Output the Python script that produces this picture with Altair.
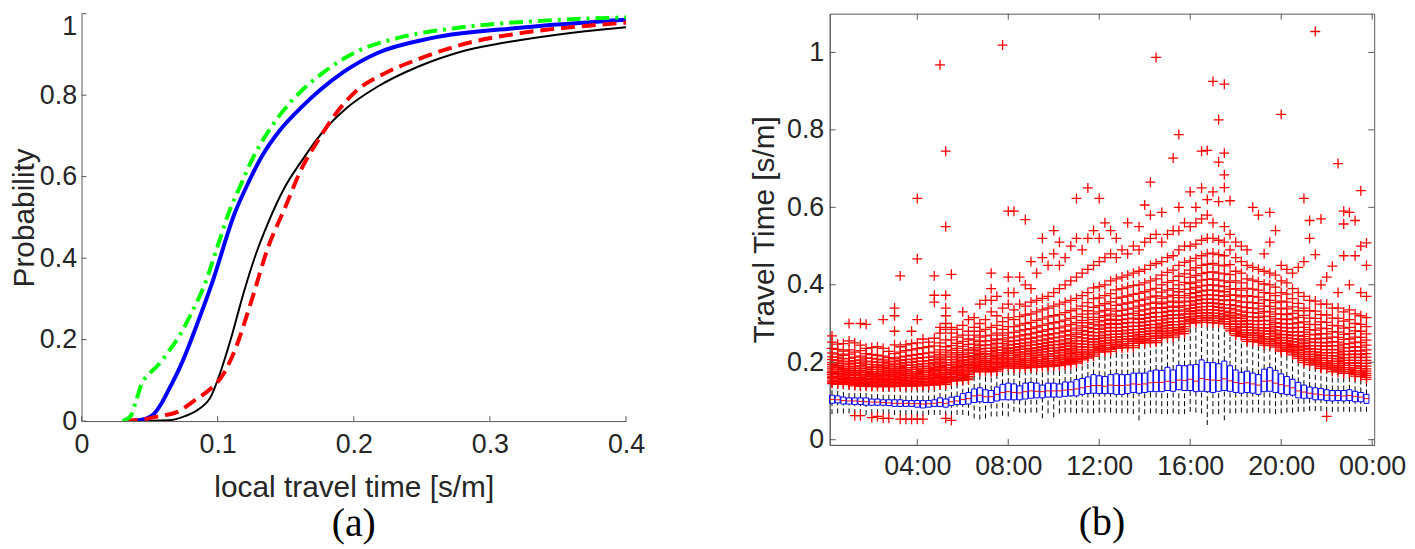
import altair as alt
import pandas as pd

# ---------------- panel (a): CDF curves ----------------
GREEN_X = [0.030, 0.036, 0.040, 0.044, 0.050, 0.057, 0.0635, 0.072, 0.080, 0.091, 0.100, 0.108, 0.117, 0.125, 0.137, 0.150, 0.163, 0.177, 0.2015, 0.232, 0.278, 0.340, 0.400]
GREEN_P = [0.000, 0.012, 0.049, 0.090, 0.117, 0.140, 0.169, 0.210, 0.260, 0.340, 0.430, 0.510, 0.580, 0.640, 0.710, 0.769, 0.815, 0.854, 0.906, 0.940, 0.966, 0.983, 0.991]
BLUE_X = [0.035, 0.045, 0.053, 0.059, 0.065, 0.072, 0.077, 0.084, 0.096, 0.1125, 0.1225, 0.1325, 0.146, 0.162, 0.175, 0.192, 0.217, 0.257, 0.324, 0.400]
BLUE_P = [0.000, 0.004, 0.017, 0.045, 0.083, 0.130, 0.169, 0.230, 0.340, 0.510, 0.585, 0.650, 0.715, 0.772, 0.812, 0.856, 0.903, 0.940, 0.966, 0.985]
BLACK_X = [0.033, 0.064, 0.076, 0.086, 0.095, 0.101, 0.110, 0.119, 0.128, 0.137, 0.149, 0.162, 0.177, 0.195, 0.217, 0.248, 0.278, 0.324, 0.370, 0.400]
BLACK_P = [0.000, 0.002, 0.012, 0.029, 0.060, 0.110, 0.205, 0.314, 0.409, 0.486, 0.572, 0.640, 0.709, 0.769, 0.820, 0.871, 0.906, 0.936, 0.957, 0.967]
RED_X = [0.031, 0.045, 0.057, 0.070, 0.084, 0.095, 0.103, 0.113, 0.125, 0.137, 0.149, 0.162, 0.174, 0.186, 0.202, 0.223, 0.248, 0.278, 0.324, 0.370, 0.400]
RED_P = [0.000, 0.004, 0.012, 0.022, 0.053, 0.080, 0.109, 0.177, 0.297, 0.426, 0.520, 0.622, 0.690, 0.751, 0.811, 0.854, 0.889, 0.923, 0.953, 0.970, 0.978]

A_XTICKS = [0, 0.1, 0.2, 0.3, 0.4]
A_YTICKS = [0, 0.2, 0.4, 0.6, 0.8, 1.0]

# ---------------- panel (b): box plot per 15-minute bin ----------------
BIN_MINUTES = 15
Q3 = [.115,.113,.110,.108,.108,.108,.108,.105,.105,.103,
      .103,.103,.103,.101,.101,.101,.101,.101,.103,.108,
      .105,.110,.112,.119,.122,.131,.134,.129,.127,.136,
      .143,.146,.144,.139,.146,.148,.146,.141,.146,.146,
      .144,.149,.149,.155,.158,.162,.168,.165,.163,.168,
      .170,.168,.168,.172,.172,.172,.177,.180,.179,.187,
      .180,.192,.191,.193,.194,.206,.199,.199,.196,.203,
      .191,.180,.174,.177,.172,.168,.182,.186,.179,.170,
      .163,.156,.148,.141,.136,.134,.132,.129,.127,.127,
      .127,.129,.125,.122,.117]
Q1 = [.094,.095,.092,.092,.091,.091,.089,.089,.089,.089,
      .088,.086,.086,.086,.086,.084,.082,.084,.086,.086,
      .084,.088,.091,.091,.092,.096,.098,.096,.096,.100,
      .103,.103,.103,.103,.105,.107,.108,.108,.110,.110,
      .110,.112,.113,.113,.117,.119,.120,.119,.119,.119,
      .117,.117,.119,.122,.120,.122,.124,.124,.124,.127,
      .125,.129,.127,.127,.124,.125,.124,.122,.125,.127,
      .125,.122,.120,.122,.120,.117,.124,.125,.122,.119,
      .117,.115,.108,.107,.107,.103,.103,.101,.100,.101,
      .100,.101,.098,.098,.094]
MED = [.104,.103,.101,.100,.100,.099,.098,.097,.097,.096,
       .095,.094,.094,.094,.093,.093,.092,.093,.094,.096,
       .094,.098,.100,.104,.106,.113,.115,.111,.111,.117,
       .122,.124,.122,.121,.124,.126,.125,.124,.126,.126,
       .126,.128,.129,.131,.134,.137,.140,.140,.138,.141,
       .140,.140,.141,.144,.143,.144,.147,.148,.148,.151,
       .148,.154,.153,.156,.151,.158,.155,.154,.153,.157,
       .152,.148,.145,.147,.144,.141,.151,.152,.146,.142,
       .139,.134,.126,.123,.120,.118,.116,.115,.114,.114,
       .113,.114,.112,.110,.106]
LO = [.066,.068,.068,.068,.066,.066,.064,.066,.066,.066,
      .066,.064,.064,.064,.064,.062,.062,.064,.064,.064,
      .062,.062,.064,.064,.062,.055,.052,.055,.060,.060,
      .062,.060,.072,.070,.068,.070,.070,.055,.068,.058,
      .068,.070,.070,.068,.070,.068,.068,.070,.070,.070,
      .068,.068,.068,.066,.050,.066,.068,.068,.066,.066,
      .068,.066,.066,.072,.070,.068,.038,.066,.066,.050,
      .068,.068,.070,.068,.070,.070,.068,.068,.066,.068,
      .070,.070,.072,.072,.074,.074,.074,.072,.072,.072,
      .072,.072,.072,.072,.072]
HI = [.140,.140,.139,.138,.135,.134,.134,.133,.133,.133,
      .133,.133,.134,.134,.134,.135,.135,.136,.137,.138,
      .139,.147,.148,.149,.151,.171,.172,.172,.171,.173,
      .181,.184,.180,.180,.181,.181,.182,.183,.184,.185,
      .186,.188,.190,.193,.202,.207,.212,.222,.222,.223,
      .232,.232,.233,.233,.245,.245,.246,.246,.259,.259,
      .260,.269,.270,.297,.298,.299,.299,.298,.297,.295,
      .277,.265,.263,.250,.249,.248,.240,.239,.235,.225,
      .224,.215,.206,.195,.190,.189,.180,.179,.172,.171,
      .167,.167,.160,.159,.152]

# outliers per bin, in thousandths of s/m
OUTLIERS = [
    "145 149 152 157 161 164 169 174 177 183 188 194 199 207 214 224 236 252 268",
    "143 146 151 154 159 163 168 171 176 181 187 191 198 204 213 221 233 247",
    "144 147 150 155 158 162 167 170 175 180 184 190 196 203 209 218 229 248",
    "142 146 149 153 157 160 165 169 173 178 183 188 195 201 210 221 232 255 300",
    "062 139 142 146 149 154 157 161 166 170 175 179 185 190 197 204 213 226 250",
    "062 138 141 145 149 152 156 160 165 169 174 179 184 191 198 206 216 230 244 300",
    "138 142 145 148 152 156 159 164 168 173 177 183 188 195 203 211 222 236 298",
    "057 137 140 144 147 151 155 158 163 167 171 176 181 187 194 201 210 220 238",
    "060 137 141 144 148 151 155 159 162 167 172 176 182 188 193 200 208 218 240",
    "055 137 140 143 147 150 154 158 162 166 170 175 180 186 192 199 206 216 236 310",
    "055 137 141 144 148 152 155 159 164 168 173 178 184 190 196 203 212 228",
    "137 140 144 147 151 155 159 163 167 172 177 182 188 194 201 209 222 245 280 320 340",
    "053 138 141 145 148 152 156 160 164 169 173 178 184 189 196 204 213 226 240 423",
    "053 138 142 145 149 153 157 161 166 170 175 180 186 192 199 207 216 230 245",
    "053 138 141 145 149 152 157 161 165 170 175 181 186 193 200 208 218 232 248 280",
    "053 139 142 146 150 154 158 162 167 171 176 182 188 194 202 210 220 235 250 310 467 623",
    "053 139 143 147 150 155 159 163 168 173 178 183 189 196 203 212 222 238 260",
    "140 143 147 151 155 159 164 168 173 178 184 190 197 204 213 224 240 252",
    "141 145 149 152 157 161 166 170 175 181 186 193 199 207 216 226 242 262 355 373 423",
    "142 146 150 154 158 163 167 172 178 183 189 196 203 211 220 232 250 275 290 968",
    "055 143 147 151 155 160 164 169 174 180 186 192 199 207 216 226 240 258 285 300 320 340 373 550 745",
    "050 151 155 159 163 168 172 177 182 187 193 199 206 213 221 231 243 258 275 290 427",
    "152 156 160 164 169 173 178 183 189 195 201 208 216 225 236 249 265 285",
    "153 157 161 166 170 175 180 186 191 198 204 212 220 230 241 254 270 295 330",
    "155 159 163 168 172 177 183 188 194 200 207 215 224 234 246 260 280 310",
    "175 179 183 187 192 196 201 206 211 217 223 230 238 247 257 270 290 315",
    "176 180 184 189 193 198 203 208 214 220 227 234 243 253 265 280 300 350",
    "176 181 185 189 194 199 204 210 215 222 228 236 245 255 268 285 310 360",
    "175 179 184 188 193 198 203 209 215 221 228 236 245 256 270 290 330 360 390 430",
    "177 181 186 190 195 200 206 211 217 224 231 239 249 260 275 295 320 370",
    "185 189 193 198 203 208 213 219 225 232 239 248 258 270 285 305 340 1019",
    "188 192 197 201 206 211 217 223 229 236 244 253 263 276 292 315 350 380 420 590",
    "184 188 193 197 202 207 212 218 224 231 238 246 255 265 277 292 310 335 380 590",
    "185 189 193 198 203 208 214 220 226 233 240 248 257 268 281 296 318 350 420",
    "185 190 194 199 204 209 215 221 227 234 242 250 260 271 284 300 322 345 400 568",
    "186 190 195 200 205 210 216 222 229 236 244 252 262 273 287 303 325 355 390 460",
    "187 191 196 201 206 212 218 224 231 238 246 255 265 277 291 308 330 360 430",
    "188 192 197 202 207 213 219 226 233 240 248 257 268 280 295 312 335 365 470 520",
    "189 193 198 203 209 215 221 228 235 243 251 260 271 284 299 317 340 370 450",
    "190 194 199 204 210 216 222 229 237 245 253 263 274 287 302 320 345 380 480 540",
    "191 195 200 206 211 217 224 231 238 246 255 265 276 289 305 323 350 390 450 510",
    "193 197 202 207 213 219 226 233 241 249 258 268 280 293 309 328 355 400 470",
    "195 199 204 210 216 222 229 236 244 252 261 271 283 297 313 333 360 410 500",
    "198 202 207 213 219 225 232 240 248 256 266 276 288 302 318 338 365 420 520 623",
    "206 210 215 221 227 233 240 247 255 263 272 282 294 308 324 345 372 430 490",
    "211 216 221 226 232 239 246 253 261 270 279 290 302 316 333 354 380 440 520 650",
    "216 221 226 232 238 245 252 259 268 277 287 298 310 325 342 364 392 450 540",
    "226 231 236 241 247 254 261 268 276 285 294 304 316 330 346 366 395 460 520 623",
    "227 232 237 243 249 256 263 270 279 288 297 308 320 334 351 372 400 470 560",
    "228 233 238 244 250 257 264 272 281 290 300 311 324 338 356 377 410 480 540",
    "236 241 246 252 258 265 272 280 289 298 308 319 332 347 365 387 415 470 520",
    "237 242 247 253 259 266 273 281 290 300 310 321 334 350 368 390 420 490",
    "238 243 248 254 260 267 275 283 292 302 312 324 337 353 371 394 425 480 560",
    "238 243 249 255 261 268 276 284 293 303 314 326 340 356 375 398 430 500",
    "249 254 259 265 271 278 285 293 302 311 321 332 345 360 378 400 435 490 550",
    "250 255 260 266 272 279 287 295 304 313 323 335 348 363 382 405 440 510 606",
    "251 256 261 267 274 281 289 297 306 316 326 338 352 368 387 410 450 520 580 665",
    "251 256 262 268 275 282 290 298 308 318 329 341 355 371 391 415 455 530 987",
    "263 268 273 279 286 293 301 309 318 328 339 351 365 381 400 425 460 510 587",
    "264 269 275 281 288 295 303 312 321 331 342 355 369 386 406 432 470 530",
    "265 270 276 282 289 297 305 314 323 334 345 358 373 390 411 438 475 540 727",
    "273 278 284 290 297 305 313 322 332 342 354 367 382 400 422 450 490 540 600 788",
    "274 280 286 292 299 307 316 325 335 346 358 372 388 406 428 458 500 560",
    "301 306 311 317 324 331 339 347 356 366 377 389 403 419 438 462 500 550 640",
    "302 307 313 319 326 333 341 350 359 369 380 393 407 424 444 468 505 560 600",
    "303 308 314 320 327 335 343 352 362 372 384 397 412 429 450 475 515 570 650 745",
    "303 309 315 321 328 336 344 353 363 374 386 399 414 432 453 480 520 580 620 747",
    "302 308 314 320 327 335 344 353 363 374 386 400 415 433 455 482 520 560 640 925",
    "301 307 313 319 326 334 342 351 361 372 384 397 412 430 451 478 515 615 717 826",
    "299 305 311 317 324 332 340 349 359 370 382 395 410 428 449 475 510 550 651 684 740 918",
    "281 286 292 298 305 312 320 329 339 349 361 374 389 406 426 452 490 530 617",
    "269 274 280 286 292 299 307 316 325 335 346 359 373 390 410 435 470 510",
    "267 272 277 283 290 297 305 313 322 332 343 355 369 386 405 430 460 500",
    "254 259 264 270 276 283 291 299 308 318 329 341 355 372 391 415 450 490",
    "253 258 264 270 276 283 290 298 307 317 328 340 354 370 389 412 445 600",
    "252 257 263 269 275 282 289 297 306 315 326 338 352 368 386 408 440 580",
    "244 249 254 260 266 273 281 289 298 308 319 331 345 361 380 402 435 480",
    "243 248 254 259 266 273 280 288 297 307 318 330 344 360 378 400 430 510 587",
    "239 244 249 255 261 268 275 283 292 302 312 324 338 354 372 394 425 540",
    "229 234 239 244 250 257 264 272 281 290 300 312 325 340 358 380 410 450 840",
    "228 233 238 243 249 256 263 271 279 289 299 310 323 338 355 376 405 440",
    "219 224 229 234 240 246 253 261 269 278 288 299 312 326 343 364 390 430",
    "210 215 220 225 231 237 244 252 260 269 279 290 302 316 333 352 380 445",
    "199 204 209 214 220 226 233 240 248 257 267 278 290 304 321 340 370 460 623",
    "194 199 204 209 215 221 228 235 243 252 261 272 284 298 314 333 360 520 566",
    "193 198 203 208 214 220 227 234 242 251 260 271 283 297 313 332 358 478 1054",
    "184 189 194 199 205 211 218 225 233 242 251 262 274 288 304 323 350 400 570",
    "060 183 188 193 198 204 210 217 224 232 241 250 261 273 287 303 322 350 420",
    "176 181 186 191 197 203 210 217 225 233 243 253 265 279 295 314 340 448",
    "175 180 185 190 196 202 209 216 224 232 242 252 264 278 294 313 340 380 713",
    "171 176 181 186 192 198 205 212 220 228 237 247 259 272 288 306 330 475 557 590",
    "171 176 181 186 192 198 205 212 220 228 238 248 260 274 290 310 335 400 587",
    "164 169 174 179 185 191 198 205 213 221 230 240 252 265 281 300 325 475 566",
    "163 168 173 178 184 190 197 204 212 220 229 239 251 264 280 298 320 380 500 643",
    "156 161 166 171 177 183 190 197 205 213 222 232 244 257 273 292 315 370 450 508",
]
B_YTICKS = [0, 0.2, 0.4, 0.6, 0.8, 1.0]
B_XTICKS = [4, 8, 12, 16, 20, 24]

# ---------------- styling ----------------
AX = "#595959"
TXT = "#262626"
FONT = "Liberation Sans"
W_A, H_A = 548, 410
W_B, H_B = 548, 434

# ---------------- panel (a) ----------------
rows = []
for name, xs, ps in [("green", GREEN_X, GREEN_P), ("blue", BLUE_X, BLUE_P),
                     ("black", BLACK_X, BLACK_P), ("red", RED_X, RED_P)]:
    for x, p in zip(xs, ps):
        rows.append({"curve": name, "x": x, "p": p})
df_a = pd.DataFrame(rows)

xs_a = alt.Scale(domain=[0, 0.4], nice=False, zero=False)
ys_a = alt.Scale(domain=[0, 1], nice=False)

ax_x_a = alt.Axis(values=A_XTICKS, format="~g", labelPadding=11, title="local travel time [s/m]",
                  titlePadding=15, labelFlush=False)
ax_y_a = alt.Axis(values=A_YTICKS, format="~g", labelPadding=5, title="Probability", titlePadding=0,
                  labelBaseline=alt.condition("datum.value == 1", alt.value("top"), alt.value("middle")),
                  labelFlush=False)

styles = [("black", "#000000", None, 2.0),
          ("blue", "#0000FF", None, 4.0),
          ("red", "#FF0000", [14, 7], 4.0),
          ("green", "#00FF00", [14, 6, 3, 6], 4.0)]
layers_a = []
for name, color, dash, w in styles:
    kw = dict(color=color, strokeWidth=w, interpolate="monotone", clip=True)
    if dash:
        kw["strokeDash"] = dash
    ch = alt.Chart(df_a[df_a.curve == name]).mark_line(**kw).encode(
        x=alt.X("x:Q", scale=xs_a, axis=ax_x_a),
        y=alt.Y("p:Q", scale=ys_a, axis=ax_y_a),
    )
    layers_a.append(ch)

tick_xa = alt.Chart(pd.DataFrame({"x": A_XTICKS})).mark_rule(color=AX, strokeWidth=1).encode(
    x=alt.X("x:Q", scale=xs_a, axis=ax_x_a), y=alt.value(H_A), y2=alt.value(H_A - 5))
tick_ya = alt.Chart(pd.DataFrame({"p": A_YTICKS})).mark_rule(color=AX, strokeWidth=1).encode(
    y=alt.Y("p:Q", scale=ys_a, axis=ax_y_a), x=alt.value(0), x2=alt.value(5))

panel_a = alt.layer(*layers_a, tick_xa, tick_ya).properties(
    width=W_A, height=H_A,
    view=alt.ViewBackground(stroke="transparent"),
    title=alt.TitleParams("(a)", orient="bottom", frame="group", anchor="middle", offset=2, fontSize=40),
)

# ---------------- panel (b) ----------------
n = len(Q1)
times = [BIN_MINUTES * (k + 1) / 60 for k in range(n)]
df_b = pd.DataFrame({"t": times, "q1": Q1, "med": MED, "q3": Q3, "lo": LO, "hi": HI})
orows = []
for t, s in zip(times, OUTLIERS):
    for tok in s.split():
        orows.append({"t": t, "v": int(tok) / 1000})
df_o = pd.DataFrame(orows)

xs_b = alt.Scale(domain=[0.15, 24.09], nice=False, zero=False)
ys_b = alt.Scale(domain=[-0.0135, 1.1], nice=False, zero=False)

ax_x_b = alt.Axis(values=B_XTICKS, labelExpr="pad(datum.value % 24, 2, '0', 'left') + ':00'",
                  labelPadding=9, title="", labelFlush=False)
ax_y_b = alt.Axis(values=B_YTICKS, format="~g", labelPadding=6, title="Travel Time [s/m]",
                  titlePadding=7, labelFlush=False)

X_B = alt.X("t:Q", scale=xs_b, axis=ax_x_b)
base_b = alt.Chart(df_b)
wh_up = base_b.mark_rule(color="#000000", strokeWidth=1, strokeDash=[5, 3]).encode(
    x=X_B, y=alt.Y("q3:Q", scale=ys_b, axis=ax_y_b), y2="hi:Q")
wh_lo = base_b.mark_rule(color="#000000", strokeWidth=1, strokeDash=[5, 3]).encode(
    x=X_B, y=alt.Y("lo:Q", scale=ys_b, axis=ax_y_b), y2="q1:Q")
boxes = base_b.mark_rect(fillOpacity=0, stroke="#0000FF", strokeWidth=1, xOffset=-2.5, x2Offset=2.5).encode(
    x=X_B, x2="t:Q",
    y=alt.Y("q1:Q", scale=ys_b, axis=ax_y_b), y2="q3:Q")
meds = base_b.mark_rule(color="#FF0000", strokeWidth=1, xOffset=-2.5, x2Offset=2.5).encode(
    x=X_B, x2="t:Q", y=alt.Y("med:Q", scale=ys_b, axis=ax_y_b))
outs = alt.Chart(df_o).mark_point(shape="M-1,0L1,0M0,-1L0,1", size=100, filled=False,
                                   color="#FF0000", strokeWidth=1.3, opacity=1).encode(
    x=X_B, y=alt.Y("v:Q", scale=ys_b, axis=ax_y_b))

ty = pd.DataFrame({"v": B_YTICKS})
tx = pd.DataFrame({"t": B_XTICKS})
Y_T = alt.Y("v:Q", scale=ys_b, axis=ax_y_b)
tk_l = alt.Chart(ty).mark_rule(color=AX).encode(y=Y_T, x=alt.value(0), x2=alt.value(6))
tk_r = alt.Chart(ty).mark_rule(color=AX).encode(y=Y_T, x=alt.value(W_B), x2=alt.value(W_B - 6))
tk_b = alt.Chart(tx).mark_rule(color=AX).encode(x=X_B, y=alt.value(H_B), y2=alt.value(H_B - 6))
tk_t = alt.Chart(tx).mark_rule(color=AX).encode(x=X_B, y=alt.value(0), y2=alt.value(6))

panel_b = alt.layer(wh_up, wh_lo, boxes, meds, outs, tk_l, tk_r, tk_b, tk_t).properties(
    width=W_B, height=H_B,
    view=alt.ViewBackground(stroke=AX, strokeWidth=1),
    title=alt.TitleParams("(b)", orient="bottom", frame="group", anchor="middle", offset=24, fontSize=40),
)

chart = alt.hconcat(panel_a, panel_b, spacing=205, bounds="flush").properties(
    padding={"left": 0, "top": 2, "right": 0, "bottom": 0}
).configure_axis(
    labelFont=FONT, labelFontSize=27, labelColor=TXT,
    titleFont=FONT, titleFontSize=30, titleFontWeight="normal", titleColor=TXT,
    domainColor=AX, domainWidth=1, ticks=False, grid=False,
).configure_title(
    font="Liberation Serif", fontSize=40, fontWeight="normal", color="#000000",
)

chart.save("out.html", embed_options={"renderer": "svg", "actions": False})
